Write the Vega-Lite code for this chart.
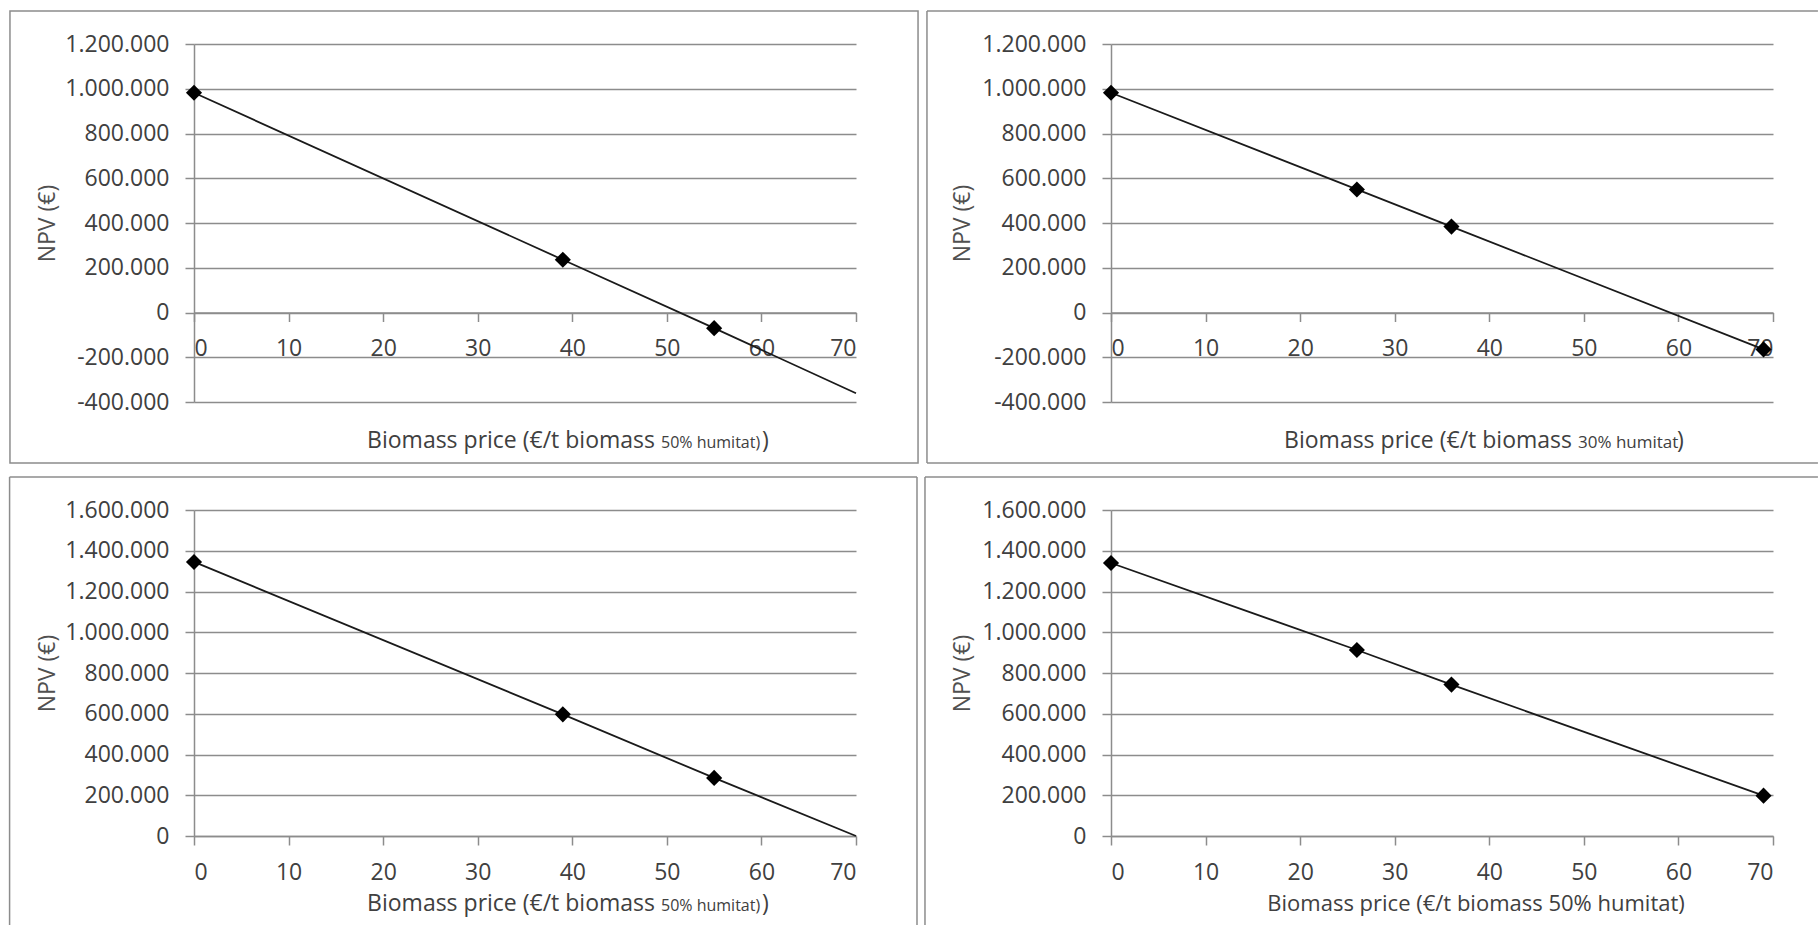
{
  "$schema": "https://vega.github.io/schema/vega-lite/v6.json",
  "background": "white",
  "padding": {"left": 8, "top": 10, "right": 0, "bottom": 0},
  "config": {
    "locale": {"number": {"decimal": ",", "thousands": ".", "grouping": [3], "currency": ["", " €"], "minus": "-"}},
    "view": {"stroke": null},
    "font": "Open Sans",
    "axis": {
      "domainColor": "#8c8c8c", "domainWidth": 1.5,
      "tickColor": "#8c8c8c", "tickWidth": 1.5, "tickSize": 9,
      "labelFont": "Open Sans", "labelFontSize": 23, "labelColor": "#404040", "labelPadding": 16,
      "gridColor": "#8c8c8c", "gridWidth": 1.5,
      "titleFont": "Open Sans", "titleFontSize": 23, "titleFontWeight": "normal", "titleColor": "#505050"
    }
  },
  "datasets": {
    "p1": [
      {"price": 0, "npv": 982000, "marker": true},
      {"price": 39, "npv": 236000, "marker": true},
      {"price": 55, "npv": -70000, "marker": true},
      {"price": 70, "npv": -361000, "marker": false}
    ],
    "p2": [
      {"price": 0, "npv": 982000, "marker": true},
      {"price": 26, "npv": 550000, "marker": true},
      {"price": 36, "npv": 384000, "marker": true},
      {"price": 69, "npv": -165000, "marker": true}
    ],
    "p3": [
      {"price": 0, "npv": 1345000, "marker": true},
      {"price": 39, "npv": 597000, "marker": true},
      {"price": 55, "npv": 285000, "marker": true},
      {"price": 70, "npv": 0, "marker": false}
    ],
    "p4": [
      {"price": 0, "npv": 1340000, "marker": true},
      {"price": 26, "npv": 913000, "marker": true},
      {"price": 36, "npv": 743000, "marker": true},
      {"price": 69, "npv": 198000, "marker": true}
    ]
  },
  "columns": 2,
  "bounds": "flush",
  "spacing": {"row": 108, "column": 255},
  "resolve": {"scale": {"x": "independent", "y": "independent"}},
  "concat": [
    {
      "width": 662, "height": 358,
      "data": {"name": "p1"},
      "layer": [
        {
          "mark": {"type": "line", "color": "#1a1a1a", "strokeWidth": 1.8},
          "encoding": {
            "x": {"field": "price", "type": "quantitative", "scale": {"domain": [0, 70], "nice": false},
                  "axis": {"title": null, "grid": false, "values": [0, 10, 20, 30, 40, 50, 60, 70], "offset": -89.5}},
            "y": {"field": "npv", "type": "quantitative", "scale": {"domain": [-400000, 1200000], "nice": false, "zero": false},
                  "axis": {"title": "NPV (€)", "grid": true, "format": ",d", "values": [-400000, -200000, 0, 200000, 400000, 600000, 800000, 1000000, 1200000],
                           "titleX": -147, "titleY": 179, "titleAlign": "center", "titleBaseline": "middle"}}
          }
        },
        {
          "transform": [{"filter": "datum.marker"}],
          "mark": {"type": "point", "shape": "diamond", "filled": true, "color": "#000000", "opacity": 1, "size": 260},
          "encoding": {
            "x": {"field": "price", "type": "quantitative"},
            "y": {"field": "npv", "type": "quantitative"}
          }
        },
        {
          "data": {"values": [{}]},
          "mark": {"type": "rect", "fill": null, "fillOpacity": 0, "stroke": "#8c8c8c", "strokeWidth": 1.5},
          "encoding": {"x": {"datum": -19.46}, "x2": {"datum": 76.56}, "y": {"datum": 1347500}, "y2": {"datum": -672500}}
        },
        {
          "data": {"values": [{}]},
          "mark": {"type": "text", "text": "Biomass price (€/t biomass", "align": "right", "baseline": "alphabetic", "fontSize": 23, "color": "#404040", "dx": -6},
          "encoding": {"x": {"datum": 49.38}, "y": {"datum": -605500}}
        },
        {
          "data": {"values": [{}]},
          "mark": {"type": "text", "text": "50% humitat)", "align": "left", "baseline": "alphabetic", "fontSize": 16, "color": "#404040"},
          "encoding": {"x": {"datum": 49.38}, "y": {"datum": -605500}}
        },
        {
          "data": {"values": [{}]},
          "mark": {"type": "text", "text": ")", "align": "left", "baseline": "alphabetic", "fontSize": 23, "color": "#404040"},
          "encoding": {"x": {"datum": 60.05}, "y": {"datum": -605500}}
        }
      ]
    },
    {
      "width": 662, "height": 358,
      "data": {"name": "p2"},
      "layer": [
        {
          "mark": {"type": "line", "color": "#1a1a1a", "strokeWidth": 1.8},
          "encoding": {
            "x": {"field": "price", "type": "quantitative", "scale": {"domain": [0, 70], "nice": false},
                  "axis": {"title": null, "grid": false, "values": [0, 10, 20, 30, 40, 50, 60, 70], "offset": -89.5}},
            "y": {"field": "npv", "type": "quantitative", "scale": {"domain": [-400000, 1200000], "nice": false, "zero": false},
                  "axis": {"title": "NPV (€)", "grid": true, "format": ",d", "values": [-400000, -200000, 0, 200000, 400000, 600000, 800000, 1000000, 1200000],
                           "titleX": -149, "titleY": 179, "titleAlign": "center", "titleBaseline": "middle"}}
          }
        },
        {
          "transform": [{"filter": "datum.marker"}],
          "mark": {"type": "point", "shape": "diamond", "filled": true, "color": "#000000", "opacity": 1, "size": 260},
          "encoding": {
            "x": {"field": "price", "type": "quantitative"},
            "y": {"field": "npv", "type": "quantitative"}
          }
        },
        {
          "data": {"values": [{}]},
          "mark": {"type": "rule", "color": "#8c8c8c", "strokeWidth": 1.5},
          "encoding": {"x": {"datum": -19.46}, "x2": {"datum": 74.75}, "y": {"datum": 1347500}}
        },
        {
          "data": {"values": [{}]},
          "mark": {"type": "rule", "color": "#8c8c8c", "strokeWidth": 1.5},
          "encoding": {"x": {"datum": -19.46}, "x2": {"datum": 74.75}, "y": {"datum": -672500}}
        },
        {
          "data": {"values": [{}]},
          "mark": {"type": "rule", "color": "#8c8c8c", "strokeWidth": 1.5},
          "encoding": {"x": {"datum": -19.46}, "y": {"datum": 1347500}, "y2": {"datum": -672500}}
        },
        {
          "data": {"values": [{}]},
          "mark": {"type": "text", "text": "Biomass price (€/t biomass", "align": "right", "baseline": "alphabetic", "fontSize": 23, "color": "#404040", "dx": -6},
          "encoding": {"x": {"datum": 49.38}, "y": {"datum": -605500}}
        },
        {
          "data": {"values": [{}]},
          "mark": {"type": "text", "text": "30% humitat", "align": "left", "baseline": "alphabetic", "fontSize": 17, "color": "#404040"},
          "encoding": {"x": {"datum": 49.38}, "y": {"datum": -605500}}
        },
        {
          "data": {"values": [{}]},
          "mark": {"type": "text", "text": ")", "align": "left", "baseline": "alphabetic", "fontSize": 23, "color": "#404040"},
          "encoding": {"x": {"datum": 59.85}, "y": {"datum": -605500}}
        }
      ]
    },
    {
      "width": 662, "height": 326,
      "data": {"name": "p3"},
      "layer": [
        {
          "mark": {"type": "line", "color": "#1a1a1a", "strokeWidth": 1.8},
          "encoding": {
            "x": {"field": "price", "type": "quantitative", "scale": {"domain": [0, 70], "nice": false},
                  "axis": {"title": null, "grid": false, "values": [0, 10, 20, 30, 40, 50, 60, 70]}},
            "y": {"field": "npv", "type": "quantitative", "scale": {"domain": [0, 1600000], "nice": false},
                  "axis": {"title": "NPV (€)", "grid": true, "format": ",d", "values": [0, 200000, 400000, 600000, 800000, 1000000, 1200000, 1400000, 1600000],
                           "titleX": -147, "titleY": 163, "titleAlign": "center", "titleBaseline": "middle"}}
          }
        },
        {
          "transform": [{"filter": "datum.marker"}],
          "mark": {"type": "point", "shape": "diamond", "filled": true, "color": "#000000", "opacity": 1, "size": 260},
          "encoding": {
            "x": {"field": "price", "type": "quantitative"},
            "y": {"field": "npv", "type": "quantitative"}
          }
        },
        {
          "data": {"values": [{}]},
          "mark": {"type": "rule", "color": "#8c8c8c", "strokeWidth": 1.5},
          "encoding": {"x": {"datum": -19.5}, "x2": {"datum": 76.45}, "y": {"datum": 1762000}}
        },
        {
          "data": {"values": [{}]},
          "mark": {"type": "rule", "color": "#8c8c8c", "strokeWidth": 1.5},
          "encoding": {"x": {"datum": -19.5}, "y": {"datum": 1762000}, "y2": {"datum": -437000}}
        },
        {
          "data": {"values": [{}]},
          "mark": {"type": "rule", "color": "#8c8c8c", "strokeWidth": 1.5},
          "encoding": {"x": {"datum": 76.45}, "y": {"datum": 1762000}, "y2": {"datum": -437000}}
        },
        {
          "data": {"values": [{}]},
          "mark": {"type": "text", "text": "Biomass price (€/t biomass", "align": "right", "baseline": "alphabetic", "fontSize": 23, "color": "#404040", "dx": -6},
          "encoding": {"x": {"datum": 49.38}, "y": {"datum": -368000}}
        },
        {
          "data": {"values": [{}]},
          "mark": {"type": "text", "text": "50% humitat)", "align": "left", "baseline": "alphabetic", "fontSize": 16, "color": "#404040"},
          "encoding": {"x": {"datum": 49.38}, "y": {"datum": -368000}}
        },
        {
          "data": {"values": [{}]},
          "mark": {"type": "text", "text": ")", "align": "left", "baseline": "alphabetic", "fontSize": 23, "color": "#404040"},
          "encoding": {"x": {"datum": 60.05}, "y": {"datum": -368000}}
        }
      ]
    },
    {
      "width": 662, "height": 326,
      "data": {"name": "p4"},
      "layer": [
        {
          "mark": {"type": "line", "color": "#1a1a1a", "strokeWidth": 1.8},
          "encoding": {
            "x": {"field": "price", "type": "quantitative", "scale": {"domain": [0, 70], "nice": false},
                  "axis": {"title": null, "grid": false, "values": [0, 10, 20, 30, 40, 50, 60, 70]}},
            "y": {"field": "npv", "type": "quantitative", "scale": {"domain": [0, 1600000], "nice": false},
                  "axis": {"title": "NPV (€)", "grid": true, "format": ",d", "values": [0, 200000, 400000, 600000, 800000, 1000000, 1200000, 1400000, 1600000],
                           "titleX": -149, "titleY": 163, "titleAlign": "center", "titleBaseline": "middle"}}
          }
        },
        {
          "transform": [{"filter": "datum.marker"}],
          "mark": {"type": "point", "shape": "diamond", "filled": true, "color": "#000000", "opacity": 1, "size": 260},
          "encoding": {
            "x": {"field": "price", "type": "quantitative"},
            "y": {"field": "npv", "type": "quantitative"}
          }
        },
        {
          "data": {"values": [{}]},
          "mark": {"type": "rule", "color": "#8c8c8c", "strokeWidth": 1.5},
          "encoding": {"x": {"datum": -19.67}, "x2": {"datum": 74.75}, "y": {"datum": 1762000}}
        },
        {
          "data": {"values": [{}]},
          "mark": {"type": "rule", "color": "#8c8c8c", "strokeWidth": 1.5},
          "encoding": {"x": {"datum": -19.67}, "y": {"datum": 1762000}, "y2": {"datum": -437000}}
        },
        {
          "data": {"values": [{}]},
          "mark": {"type": "text", "text": "Biomass price (€/t biomass 50% humitat)", "align": "center", "baseline": "alphabetic", "fontSize": 22, "color": "#404040"},
          "encoding": {"x": {"datum": 38.6}, "y": {"datum": -368000}}
        }
      ]
    }
  ]
}
